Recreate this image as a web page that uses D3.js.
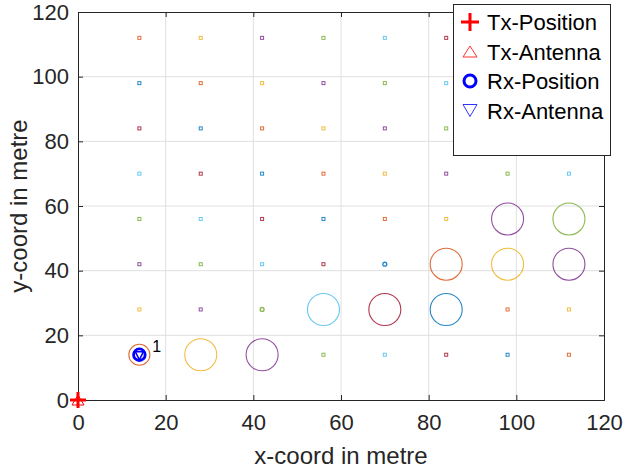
<!DOCTYPE html>
<html><head><meta charset="utf-8">
<script src="https://cdn.jsdelivr.net/npm/d3@7"></script>
<style>
html,body{margin:0;padding:0;background:#fff;}
text{font-family:"Liberation Sans",Arial,Helvetica,sans-serif;}
</style></head>
<body>
<svg id="chart" width="624" height="473"></svg>
<script>
// ---- data ----
const xTicks = [0, 20, 40, 60, 80, 100, 120];
const yTicks = [0, 20, 40, 60, 80, 100, 120];
const gridX = [14, 28, 42, 56, 70, 84, 98, 112];
const gridY = [14, 28, 42, 56, 70, 84, 98, 112];
// circle radius (metres) at each grid point, one row per gridY value
const radiusRow14  = [2.4, 3.65, 3.65, 0.3, 0.3, 0.3, 0.3, 0.3];
const radiusRow28  = [0.3, 0.3, 0.45, 3.65, 3.65, 3.65, 0.3, 0.3];
const radiusRow42  = [0.3, 0.3, 0.3, 0.3, 0.45, 3.65, 3.65, 3.65];
const radiusRow56  = [0.3, 0.3, 0.3, 0.3, 0.3, 0.3, 3.65, 3.65];
const radiusRow70  = [0.3, 0.3, 0.3, 0.3, 0.3, 0.3, 0.3, 0.3];
const radiusRow84  = [0.3, 0.3, 0.3, 0.3, 0.3, 0.3, 0.3, 0.3];
const radiusRow98  = [0.3, 0.3, 0.3, 0.3, 0.3, 0.3, 0.3, 0.3];
const radiusRow112 = [0.3, 0.3, 0.3, 0.3, 0.3, 0.3, 0.3, 0.3];
const radiusRows = [radiusRow14, radiusRow28, radiusRow42, radiusRow56, radiusRow70, radiusRow84, radiusRow98, radiusRow112];
const txPosition = [0, 0];
const rxPosition = [14, 14];
const rxLabel = "1";
const legendLabels = ["Tx-Position", "Tx-Antenna", "Rx-Position", "Rx-Antenna"];
const colorOrder = ["#0072BD", "#D95319", "#EDB120", "#7E2F8E", "#77AC30", "#4DBEEE", "#A2142F"];

// ---- layout ----
const L = 78, R = 604, T = 12, B = 400;
const axisColor = "#262626";
const svg = d3.select("#chart");
const x = d3.scaleLinear().domain([0, 120]).range([L, R]);
const y = d3.scaleLinear().domain([0, 120]).range([B, T]);

// grid
const g = svg.append("g");
g.selectAll(".gx").data(xTicks.slice(1, -1)).enter().append("line")
  .attr("x1", d => x(d)).attr("x2", d => x(d)).attr("y1", T).attr("y2", B)
  .attr("stroke", "#dfdfdf").attr("stroke-width", 1);
g.selectAll(".gy").data(yTicks.slice(1, -1)).enter().append("line")
  .attr("y1", d => y(d)).attr("y2", d => y(d)).attr("x1", L).attr("x2", R)
  .attr("stroke", "#dfdfdf").attr("stroke-width", 1);

// axes
const xAxisB = d3.axisBottom(x).tickValues(xTicks).tickSize(-5).tickPadding(14);
const yAxisL = d3.axisLeft(y).tickValues(yTicks).tickSize(-5).tickPadding(9);
const xAxisT = d3.axisTop(x).tickValues(xTicks).tickSize(-5).tickFormat("");
const yAxisR = d3.axisRight(y).tickValues(yTicks).tickSize(-5).tickFormat("");
function style(sel) {
  sel.select(".domain").attr("stroke", axisColor).attr("stroke-width", 1);
  sel.selectAll(".tick line").attr("stroke", axisColor);
  sel.selectAll(".tick text").attr("fill", axisColor).style("font-size", "22px")
    .style("font-family", "'Liberation Sans', Arial, sans-serif");
}
svg.append("g").attr("transform", `translate(0,${B})`).call(xAxisB).call(style);
svg.append("g").attr("transform", `translate(${L},0)`).call(yAxisL).call(style);
svg.append("g").attr("transform", `translate(0,${T})`).call(xAxisT).call(style);
svg.append("g").attr("transform", `translate(${R},0)`).call(yAxisR).call(style);

// axis labels
svg.append("text").attr("x", (L + R) / 2).attr("y", 464).attr("text-anchor", "middle")
  .attr("fill", axisColor).style("font-size", "24px").text("x-coord in metre");
svg.append("text").attr("transform", `translate(27,${(T + B) / 2}) rotate(-90)`)
  .attr("text-anchor", "middle").attr("fill", axisColor).style("font-size", "24px")
  .text("y-coord in metre");

// receiver grid points
const pts = [];
gridY.forEach((gy, j) => gridX.forEach((gx, i) => {
  const idx = j * gridX.length + i + 1;
  pts.push({ x: gx, y: gy, r: radiusRows[j][i], color: colorOrder[idx % colorOrder.length] });
}));
const pxPerM = x(1) - x(0);
const plot = svg.append("g");
pts.forEach(p => {
  const rp = p.r * pxPerM;
  if (rp < 1.6) {
    plot.append("rect").attr("x", x(p.x) - 1.5).attr("y", y(p.y) - 1.5)
      .attr("width", 3).attr("height", 3).attr("fill", "none")
      .attr("stroke", p.color).attr("stroke-width", 1).attr("opacity", 0.85);
  } else {
    plot.append("circle").attr("cx", x(p.x)).attr("cy", y(p.y)).attr("r", rp)
      .attr("fill", "none").attr("stroke", p.color).attr("stroke-width", rp < 4 ? 1.3 : 1.1)
      .attr("opacity", 0.85);
  }
});

// marker helpers
function plus(sel, cx, cy, s, w) {
  sel.append("path").attr("d", `M${cx - s},${cy}H${cx + s}M${cx},${cy - s}V${cy + s}`)
    .attr("stroke", "#ff0000").attr("stroke-width", w).attr("fill", "none");
}
function triUp(sel, cx, cy, w, h, c, sw) {
  sel.append("path").attr("d", `M${cx},${cy - h / 2}L${cx + w / 2},${cy + h / 2}L${cx - w / 2},${cy + h / 2}Z`)
    .attr("stroke", c).attr("stroke-width", sw).attr("fill", "none");
}
function triDown(sel, cx, cy, w, h, c, sw) {
  sel.append("path").attr("d", `M${cx},${cy + h / 2}L${cx + w / 2},${cy - h / 2}L${cx - w / 2},${cy - h / 2}Z`)
    .attr("stroke", c).attr("stroke-width", sw).attr("fill", "none");
}

// Tx
triUp(svg, x(txPosition[0]), y(txPosition[1]), 12, 10, "#ff0000", 1);
plus(svg, x(txPosition[0]), y(txPosition[1]), 8, 3);
// Rx
svg.append("circle").attr("cx", x(rxPosition[0])).attr("cy", y(rxPosition[1])).attr("r", 5.8)
  .attr("fill", "none").attr("stroke", "#0000ff").attr("stroke-width", 2.8);
triDown(svg, x(rxPosition[0]), y(rxPosition[1]) + 1, 8, 8, "#0000ff", 1.6);
svg.append("text").attr("x", x(rxPosition[0]) + 13).attr("y", y(rxPosition[1]) - 3)
  .attr("fill", "#000").style("font-size", "16px").text(rxLabel);

// legend
const lg = svg.append("g");
lg.append("rect").attr("x", 453.5).attr("y", 4.5).attr("width", 157).attr("height", 151)
  .attr("fill", "#fff").attr("stroke", axisColor).attr("stroke-width", 1);
const rowY = [22, 51.5, 81, 110.5];
plus(lg, 470, rowY[0], 9, 3);
triUp(lg, 470, rowY[1], 14, 11, "#ff3333", 1);
lg.append("circle").attr("cx", 470).attr("cy", rowY[2]).attr("r", 6).attr("fill", "none")
  .attr("stroke", "#0000ff").attr("stroke-width", 3);
triDown(lg, 470, rowY[3], 14, 12, "#3333ff", 1);
lg.selectAll(".lt").data(legendLabels).enter().append("text")
  .attr("x", 487).attr("y", (d, i) => rowY[i] + 8)
  .attr("fill", "#000").style("font-size", "22px").text(d => d);
</script>
</body></html>
